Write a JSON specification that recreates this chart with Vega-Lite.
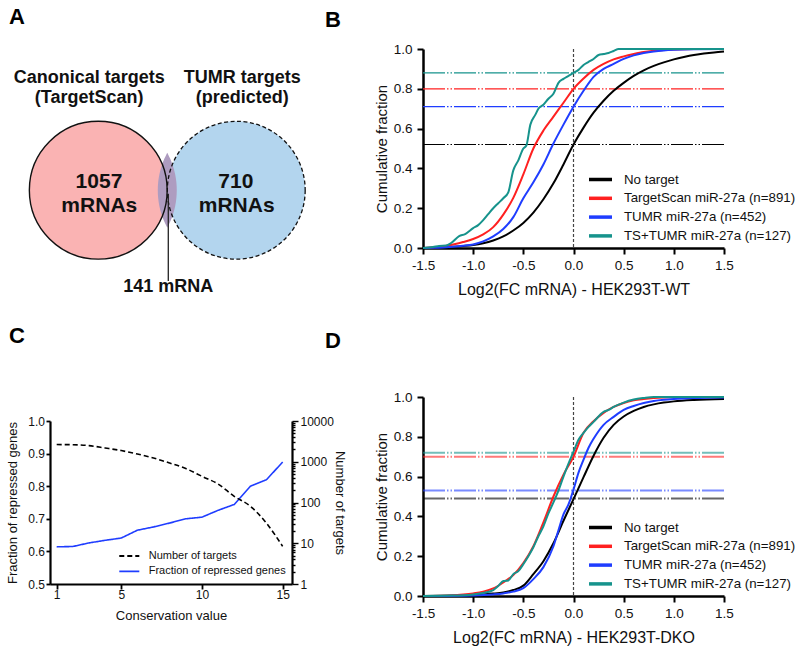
{
"$schema": "https://vega.github.io/schema/vega-lite/v6.json",
"background": "white",
"padding": {"left": 6, "top": 6, "right": 2, "bottom": 2},
"config": {
  "font": "Liberation Sans",
  "view": {"stroke": null},
  "axis": {"domainColor": "#000", "tickColor": "#000", "labelColor": "#111", "titleColor": "#111", "titleFontWeight": "normal", "grid": false, "labelFlush": false, "labelOverlap": false},
  "legend": {"padding": 0, "labelColor": "#111", "symbolOpacity": 1}
},
"datasets": {
  "vennLeft": [{"x": 0, "y": 0}],
  "vennRight": [{"x": 1.758, "y": 0}],
  "vennLens": [
    {"y": -0.477, "xl": 0.879, "xr": 0.879},
    {"y": -0.45, "xl": 0.865, "xr": 0.893},
    {"y": -0.4, "xl": 0.841, "xr": 0.917},
    {"y": -0.3, "xl": 0.804, "xr": 0.954},
    {"y": -0.2, "xl": 0.778, "xr": 0.980},
    {"y": -0.1, "xl": 0.763, "xr": 0.995},
    {"y": 0, "xl": 0.758, "xr": 1.0},
    {"y": 0.1, "xl": 0.763, "xr": 0.995},
    {"y": 0.2, "xl": 0.778, "xr": 0.980},
    {"y": 0.3, "xl": 0.804, "xr": 0.954},
    {"y": 0.4, "xl": 0.841, "xr": 0.917},
    {"y": 0.45, "xl": 0.865, "xr": 0.893},
    {"y": 0.477, "xl": 0.879, "xr": 0.879}
  ],
  "vennPointer": [{"x": 0.892, "y": -0.044, "y2": -1.156}],
  "vennHeaders": [
    {"label": "Canonical targets", "x": -0.116, "y": 1.370},
    {"label": "(TargetScan)", "x": -0.116, "y": 1.107},
    {"label": "TUMR targets", "x": 1.834, "y": 1.370},
    {"label": "(predicted)", "x": 1.834, "y": 1.107}
  ],
  "vennCounts": [
    {"label": "1057", "x": 0.009, "y": 0.032},
    {"label": "mRNAs", "x": 0.013, "y": -0.274},
    {"label": "710", "x": 1.752, "y": 0.032},
    {"label": "mRNAs", "x": 1.763, "y": -0.274}
  ],
  "vennShared": [{"label": "141 mRNA", "x": 0.892, "y": -1.293}],
  "panelLetters": [
    {"label": "A", "x": -1.137, "y": 2.117},
    {"label": "B", "x": 2.888, "y": 2.079},
    {"label": "C", "x": -1.137, "y": -1.940},
    {"label": "D", "x": 2.888, "y": -2.006}
  ],
  "medB": [{"s": "NT", "y": 0.52}, {"s": "TS", "y": 0.80}, {"s": "TU", "y": 0.71}, {"s": "TT", "y": 0.88}],
  "medD": [{"s": "NT", "y": 0.49}, {"s": "TS", "y": 0.70}, {"s": "TU", "y": 0.53}, {"s": "TT", "y": 0.72}],
  "cdfB": [
    {"s":"NT","x":-1.5,"y":0},{"s":"NT","x":-1.4,"y":0.001},{"s":"NT","x":-1.3,"y":0.003},{"s":"NT","x":-1.2,"y":0.006},{"s":"NT","x":-1.1,"y":0.010},{"s":"NT","x":-1.0,"y":0.015},{"s":"NT","x":-0.9,"y":0.024},{"s":"NT","x":-0.8,"y":0.038},{"s":"NT","x":-0.7,"y":0.058},{"s":"NT","x":-0.6,"y":0.088},{"s":"NT","x":-0.5,"y":0.126},{"s":"NT","x":-0.4,"y":0.178},{"s":"NT","x":-0.3,"y":0.245},{"s":"NT","x":-0.2,"y":0.325},{"s":"NT","x":-0.1,"y":0.42},{"s":"NT","x":0,"y":0.52},{"s":"NT","x":0.1,"y":0.605},{"s":"NT","x":0.2,"y":0.68},{"s":"NT","x":0.3,"y":0.74},{"s":"NT","x":0.4,"y":0.79},{"s":"NT","x":0.5,"y":0.83},{"s":"NT","x":0.6,"y":0.865},{"s":"NT","x":0.7,"y":0.893},{"s":"NT","x":0.8,"y":0.915},{"s":"NT","x":0.9,"y":0.933},{"s":"NT","x":1.0,"y":0.948},{"s":"NT","x":1.1,"y":0.96},{"s":"NT","x":1.2,"y":0.97},{"s":"NT","x":1.3,"y":0.977},{"s":"NT","x":1.4,"y":0.983},{"s":"NT","x":1.5,"y":0.988},
    {"s":"TS","x":-1.5,"y":0},{"s":"TS","x":-1.4,"y":0.003},{"s":"TS","x":-1.3,"y":0.008},{"s":"TS","x":-1.2,"y":0.018},{"s":"TS","x":-1.1,"y":0.03},{"s":"TS","x":-1.0,"y":0.045},{"s":"TS","x":-0.9,"y":0.068},{"s":"TS","x":-0.8,"y":0.105},{"s":"TS","x":-0.7,"y":0.168},{"s":"TS","x":-0.6,"y":0.252},{"s":"TS","x":-0.5,"y":0.37},{"s":"TS","x":-0.4,"y":0.50},{"s":"TS","x":-0.3,"y":0.59},{"s":"TS","x":-0.2,"y":0.66},{"s":"TS","x":-0.1,"y":0.73},{"s":"TS","x":0,"y":0.80},{"s":"TS","x":0.1,"y":0.852},{"s":"TS","x":0.2,"y":0.895},{"s":"TS","x":0.3,"y":0.925},{"s":"TS","x":0.4,"y":0.948},{"s":"TS","x":0.5,"y":0.963},{"s":"TS","x":0.6,"y":0.975},{"s":"TS","x":0.7,"y":0.985},{"s":"TS","x":0.8,"y":0.991},{"s":"TS","x":0.9,"y":0.995},{"s":"TS","x":1.0,"y":0.998},{"s":"TS","x":1.2,"y":1.0},{"s":"TS","x":1.5,"y":1.0},
    {"s":"TU","x":-1.5,"y":0},{"s":"TU","x":-1.4,"y":0.001},{"s":"TU","x":-1.3,"y":0.003},{"s":"TU","x":-1.2,"y":0.006},{"s":"TU","x":-1.1,"y":0.011},{"s":"TU","x":-1.0,"y":0.018},{"s":"TU","x":-0.9,"y":0.033},{"s":"TU","x":-0.8,"y":0.058},{"s":"TU","x":-0.7,"y":0.095},{"s":"TU","x":-0.6,"y":0.155},{"s":"TU","x":-0.5,"y":0.25},{"s":"TU","x":-0.4,"y":0.33},{"s":"TU","x":-0.3,"y":0.42},{"s":"TU","x":-0.2,"y":0.525},{"s":"TU","x":-0.1,"y":0.62},{"s":"TU","x":0,"y":0.71},{"s":"TU","x":0.1,"y":0.79},{"s":"TU","x":0.2,"y":0.86},{"s":"TU","x":0.3,"y":0.90},{"s":"TU","x":0.4,"y":0.925},{"s":"TU","x":0.5,"y":0.95},{"s":"TU","x":0.6,"y":0.968},{"s":"TU","x":0.7,"y":0.98},{"s":"TU","x":0.8,"y":0.988},{"s":"TU","x":0.9,"y":0.993},{"s":"TU","x":1.0,"y":0.996},{"s":"TU","x":1.2,"y":0.999},{"s":"TU","x":1.5,"y":1.0},
    {"s":"TT","x":-1.5,"y":0},{"s":"TT","x":-1.4,"y":0.005},{"s":"TT","x":-1.34,"y":0.01},{"s":"TT","x":-1.27,"y":0.012},{"s":"TT","x":-1.22,"y":0.025},{"s":"TT","x":-1.14,"y":0.06},{"s":"TT","x":-1.08,"y":0.07},{"s":"TT","x":-1.0,"y":0.10},{"s":"TT","x":-0.95,"y":0.115},{"s":"TT","x":-0.9,"y":0.14},{"s":"TT","x":-0.85,"y":0.17},{"s":"TT","x":-0.8,"y":0.20},{"s":"TT","x":-0.75,"y":0.225},{"s":"TT","x":-0.7,"y":0.25},{"s":"TT","x":-0.65,"y":0.28},{"s":"TT","x":-0.6,"y":0.39},{"s":"TT","x":-0.55,"y":0.44},{"s":"TT","x":-0.5,"y":0.50},{"s":"TT","x":-0.47,"y":0.515},{"s":"TT","x":-0.43,"y":0.62},{"s":"TT","x":-0.38,"y":0.67},{"s":"TT","x":-0.35,"y":0.70},{"s":"TT","x":-0.3,"y":0.72},{"s":"TT","x":-0.25,"y":0.75},{"s":"TT","x":-0.2,"y":0.775},{"s":"TT","x":-0.15,"y":0.83},{"s":"TT","x":-0.1,"y":0.85},{"s":"TT","x":-0.05,"y":0.865},{"s":"TT","x":0,"y":0.88},{"s":"TT","x":0.05,"y":0.895},{"s":"TT","x":0.1,"y":0.92},{"s":"TT","x":0.15,"y":0.935},{"s":"TT","x":0.2,"y":0.95},{"s":"TT","x":0.25,"y":0.97},{"s":"TT","x":0.3,"y":0.975},{"s":"TT","x":0.35,"y":0.98},{"s":"TT","x":0.4,"y":0.99},{"s":"TT","x":0.45,"y":1.0},{"s":"TT","x":1.5,"y":1.0}
  ],
  "cdfD": [
    {"s":"NT","x":-1.5,"y":0},{"s":"NT","x":-1.2,"y":0.002},{"s":"NT","x":-1.0,"y":0.005},{"s":"NT","x":-0.9,"y":0.008},{"s":"NT","x":-0.8,"y":0.012},{"s":"NT","x":-0.7,"y":0.018},{"s":"NT","x":-0.6,"y":0.03},{"s":"NT","x":-0.5,"y":0.052},{"s":"NT","x":-0.4,"y":0.11},{"s":"NT","x":-0.3,"y":0.175},{"s":"NT","x":-0.2,"y":0.265},{"s":"NT","x":-0.1,"y":0.378},{"s":"NT","x":0,"y":0.487},{"s":"NT","x":0.1,"y":0.597},{"s":"NT","x":0.2,"y":0.705},{"s":"NT","x":0.3,"y":0.795},{"s":"NT","x":0.4,"y":0.86},{"s":"NT","x":0.5,"y":0.902},{"s":"NT","x":0.6,"y":0.93},{"s":"NT","x":0.7,"y":0.95},{"s":"NT","x":0.8,"y":0.963},{"s":"NT","x":0.9,"y":0.972},{"s":"NT","x":1.0,"y":0.978},{"s":"NT","x":1.2,"y":0.985},{"s":"NT","x":1.5,"y":0.99},
    {"s":"TS","x":-1.5,"y":0},{"s":"TS","x":-1.2,"y":0.003},{"s":"TS","x":-1.1,"y":0.007},{"s":"TS","x":-1.0,"y":0.013},{"s":"TS","x":-0.9,"y":0.022},{"s":"TS","x":-0.8,"y":0.038},{"s":"TS","x":-0.7,"y":0.068},{"s":"TS","x":-0.6,"y":0.105},{"s":"TS","x":-0.5,"y":0.165},{"s":"TS","x":-0.4,"y":0.25},{"s":"TS","x":-0.3,"y":0.37},{"s":"TS","x":-0.2,"y":0.50},{"s":"TS","x":-0.1,"y":0.61},{"s":"TS","x":0,"y":0.70},{"s":"TS","x":0.1,"y":0.82},{"s":"TS","x":0.2,"y":0.878},{"s":"TS","x":0.3,"y":0.92},{"s":"TS","x":0.4,"y":0.95},{"s":"TS","x":0.5,"y":0.97},{"s":"TS","x":0.6,"y":0.983},{"s":"TS","x":0.7,"y":0.99},{"s":"TS","x":0.8,"y":0.995},{"s":"TS","x":1.0,"y":0.999},{"s":"TS","x":1.5,"y":1.0},
    {"s":"TU","x":-1.5,"y":0},{"s":"TU","x":-1.0,"y":0.003},{"s":"TU","x":-0.8,"y":0.008},{"s":"TU","x":-0.7,"y":0.013},{"s":"TU","x":-0.6,"y":0.022},{"s":"TU","x":-0.5,"y":0.04},{"s":"TU","x":-0.4,"y":0.085},{"s":"TU","x":-0.3,"y":0.145},{"s":"TU","x":-0.2,"y":0.25},{"s":"TU","x":-0.15,"y":0.33},{"s":"TU","x":-0.1,"y":0.41},{"s":"TU","x":-0.05,"y":0.46},{"s":"TU","x":0,"y":0.535},{"s":"TU","x":0.05,"y":0.62},{"s":"TU","x":0.1,"y":0.685},{"s":"TU","x":0.15,"y":0.745},{"s":"TU","x":0.2,"y":0.79},{"s":"TU","x":0.3,"y":0.86},{"s":"TU","x":0.4,"y":0.9},{"s":"TU","x":0.5,"y":0.935},{"s":"TU","x":0.6,"y":0.955},{"s":"TU","x":0.7,"y":0.97},{"s":"TU","x":0.8,"y":0.98},{"s":"TU","x":0.9,"y":0.986},{"s":"TU","x":1.0,"y":0.99},{"s":"TU","x":1.2,"y":0.995},{"s":"TU","x":1.5,"y":0.998},
    {"s":"TT","x":-1.5,"y":0},{"s":"TT","x":-1.2,"y":0.002},{"s":"TT","x":-1.0,"y":0.008},{"s":"TT","x":-0.9,"y":0.015},{"s":"TT","x":-0.8,"y":0.03},{"s":"TT","x":-0.75,"y":0.05},{"s":"TT","x":-0.7,"y":0.075},{"s":"TT","x":-0.65,"y":0.078},{"s":"TT","x":-0.6,"y":0.11},{"s":"TT","x":-0.55,"y":0.125},{"s":"TT","x":-0.5,"y":0.16},{"s":"TT","x":-0.45,"y":0.20},{"s":"TT","x":-0.4,"y":0.245},{"s":"TT","x":-0.35,"y":0.30},{"s":"TT","x":-0.3,"y":0.35},{"s":"TT","x":-0.25,"y":0.415},{"s":"TT","x":-0.2,"y":0.47},{"s":"TT","x":-0.15,"y":0.53},{"s":"TT","x":-0.1,"y":0.60},{"s":"TT","x":-0.05,"y":0.665},{"s":"TT","x":0,"y":0.725},{"s":"TT","x":0.05,"y":0.785},{"s":"TT","x":0.1,"y":0.82},{"s":"TT","x":0.15,"y":0.85},{"s":"TT","x":0.2,"y":0.875},{"s":"TT","x":0.3,"y":0.925},{"s":"TT","x":0.35,"y":0.935},{"s":"TT","x":0.4,"y":0.95},{"s":"TT","x":0.5,"y":0.972},{"s":"TT","x":0.6,"y":0.987},{"s":"TT","x":0.7,"y":0.995},{"s":"TT","x":0.8,"y":1.0},{"s":"TT","x":1.5,"y":1.0}
  ],
  "conservation": [
    {"cons":1,"frac":0.614,"num":2640},{"cons":2,"frac":0.615,"num":2620},{"cons":3,"frac":0.626,"num":2490},{"cons":4,"frac":0.634,"num":2175},{"cons":5,"frac":0.641,"num":1880},{"cons":6,"frac":0.665,"num":1550},{"cons":7,"frac":0.675,"num":1236},{"cons":8,"frac":0.687,"num":930},{"cons":9,"frac":0.70,"num":680},{"cons":10,"frac":0.705,"num":440},{"cons":11,"frac":0.726,"num":284},{"cons":12,"frac":0.744,"num":142},{"cons":13,"frac":0.80,"num":81},{"cons":14,"frac":0.82,"num":31},{"cons":15,"frac":0.874,"num":8.4}
  ]
},
"bounds": "flush",
"spacing": 373,
"resolve": {"scale": {"color": "independent", "strokeDash": "independent"}},
"hconcat": [
  {
    "bounds": "flush",
    "spacing": 173,
    "resolve": {"scale": {"color": "independent", "strokeDash": "independent"}},
    "vconcat": [
      {
        "width": 242, "height": 199,
        "layer": [
          {"data": {"name": "vennLeft"},
           "mark": {"type": "point", "shape": "circle", "filled": true, "size": 19000, "fill": "#fab3b3", "fillOpacity": 1, "opacity": 1, "strokeWidth": 0},
           "encoding": {"x": {"field": "x", "type": "quantitative", "scale": {"domain": [-0.615, 2.468], "nice": false, "zero": false}, "axis": null},
                        "y": {"field": "y", "type": "quantitative", "scale": {"domain": [-0.736, 1.799], "nice": false, "zero": false}, "axis": null}}},
          {"data": {"name": "vennRight"},
           "mark": {"type": "point", "shape": "circle", "filled": true, "size": 19000, "fill": "#b3d5ee", "fillOpacity": 1, "opacity": 1, "strokeWidth": 0},
           "encoding": {"x": {"field": "x", "type": "quantitative", "scale": {"domain": [-0.615, 2.468], "nice": false, "zero": false}, "axis": null},
                        "y": {"field": "y", "type": "quantitative", "scale": {"domain": [-0.736, 1.799], "nice": false, "zero": false}, "axis": null}}},
          {"data": {"name": "vennLens"},
           "mark": {"type": "area", "orient": "horizontal", "interpolate": "monotone", "color": "#ae9cc0", "opacity": 1},
           "encoding": {"y": {"field": "y", "type": "quantitative", "scale": {"domain": [-0.736, 1.799], "nice": false, "zero": false}, "axis": null},
                        "x": {"field": "xl", "type": "quantitative", "scale": {"domain": [-0.615, 2.468], "nice": false, "zero": false}, "axis": null},
                        "x2": {"field": "xr"}}},
          {"data": {"name": "vennLeft"},
           "mark": {"type": "point", "shape": "circle", "filled": false, "size": 19000, "opacity": 1, "stroke": "#111", "strokeWidth": 1.4},
           "encoding": {"x": {"field": "x", "type": "quantitative", "scale": {"domain": [-0.615, 2.468], "nice": false, "zero": false}, "axis": null},
                        "y": {"field": "y", "type": "quantitative", "scale": {"domain": [-0.736, 1.799], "nice": false, "zero": false}, "axis": null}}},
          {"data": {"name": "vennRight"},
           "mark": {"type": "point", "shape": "circle", "filled": false, "size": 19000, "opacity": 1, "stroke": "#111", "strokeWidth": 1.3, "strokeDash": [4, 2.5]},
           "encoding": {"x": {"field": "x", "type": "quantitative", "scale": {"domain": [-0.615, 2.468], "nice": false, "zero": false}, "axis": null},
                        "y": {"field": "y", "type": "quantitative", "scale": {"domain": [-0.736, 1.799], "nice": false, "zero": false}, "axis": null}}},
          {"data": {"name": "vennPointer"},
           "mark": {"type": "rule", "stroke": "#222", "strokeWidth": 1.3},
           "encoding": {"x": {"field": "x", "type": "quantitative", "scale": {"domain": [-0.615, 2.468], "nice": false, "zero": false}, "axis": null},
                        "y": {"field": "y", "type": "quantitative", "scale": {"domain": [-0.736, 1.799], "nice": false, "zero": false}, "axis": null},
                        "y2": {"field": "y2"}}},
          {"data": {"name": "vennHeaders"},
           "mark": {"type": "text", "fontWeight": "bold", "fontSize": 18, "align": "center", "baseline": "alphabetic", "color": "#111"},
           "encoding": {"x": {"field": "x", "type": "quantitative", "scale": {"domain": [-0.615, 2.468], "nice": false, "zero": false}, "axis": null},
                        "y": {"field": "y", "type": "quantitative", "scale": {"domain": [-0.736, 1.799], "nice": false, "zero": false}, "axis": null},
                        "text": {"field": "label"}}},
          {"data": {"name": "vennCounts"},
           "mark": {"type": "text", "fontWeight": "bold", "fontSize": 21, "align": "center", "baseline": "alphabetic", "color": "#111"},
           "encoding": {"x": {"field": "x", "type": "quantitative", "scale": {"domain": [-0.615, 2.468], "nice": false, "zero": false}, "axis": null},
                        "y": {"field": "y", "type": "quantitative", "scale": {"domain": [-0.736, 1.799], "nice": false, "zero": false}, "axis": null},
                        "text": {"field": "label"}}},
          {"data": {"name": "vennShared"},
           "mark": {"type": "text", "fontWeight": "bold", "fontSize": 18, "align": "center", "baseline": "alphabetic", "color": "#111"},
           "encoding": {"x": {"field": "x", "type": "quantitative", "scale": {"domain": [-0.615, 2.468], "nice": false, "zero": false}, "axis": null},
                        "y": {"field": "y", "type": "quantitative", "scale": {"domain": [-0.736, 1.799], "nice": false, "zero": false}, "axis": null},
                        "text": {"field": "label"}}},
          {"data": {"name": "panelLetters"},
           "mark": {"type": "text", "fontWeight": "bold", "fontSize": 22, "align": "left", "baseline": "alphabetic", "color": "#000"},
           "encoding": {"x": {"field": "x", "type": "quantitative", "scale": {"domain": [-0.615, 2.468], "nice": false, "zero": false}, "axis": null},
                        "y": {"field": "y", "type": "quantitative", "scale": {"domain": [-0.736, 1.799], "nice": false, "zero": false}, "axis": null},
                        "text": {"field": "label"}}}
        ]
      },
      {
        "width": 242, "height": 163,
        "resolve": {"scale": {"y": "independent"}},
        "layer": [
          {"data": {"name": "conservation"},
           "mark": {"type": "line", "strokeWidth": 1.6, "interpolate": "linear"},
           "encoding": {
             "x": {"field": "cons", "type": "quantitative", "scale": {"domain": [0.585, 15.58], "nice": false, "zero": false},
                   "axis": {"values": [1, 5, 10, 15], "format": "d", "title": "Conservation value", "labelFontSize": 12, "titleFontSize": 13, "tickSize": 5, "tickWidth": 1.8, "domainWidth": 2.2, "labelBaseline": "alphabetic", "labelPadding": 9.3, "titleBaseline": "alphabetic", "titleY": 35.3, "labelOverlap": false}},
             "y": {"field": "frac", "type": "quantitative", "scale": {"domain": [0.5, 1], "nice": false, "zero": false},
                   "axis": {"orient": "left", "values": [0.5, 0.6, 0.7, 0.8, 0.9, 1], "format": ".1f", "title": "Fraction of repressed genes", "labelFontSize": 12, "titleFontSize": 13, "tickSize": 4, "tickWidth": 1.8, "domainWidth": 2.2, "labelPadding": 1.5, "titleX": -30.5, "labelOverlap": false}},
             "color": {"datum": "Fraction of repressed genes", "type": "nominal", "scale": {"domain": ["Number of targets", "Fraction of repressed genes"], "range": ["#000000", "#1f3dff"]},
                       "legend": {"title": null, "orient": "none", "legendX": 72.3, "legendY": 128, "labelFontSize": 11, "symbolType": "M-1.67,0H1.67", "symbolSize": 144, "symbolStrokeWidth": 1.8, "rowPadding": 3.3, "labelOffset": 12.4, "labelLimit": 300}},
             "strokeDash": {"datum": "Fraction of repressed genes", "type": "nominal", "scale": {"domain": ["Number of targets", "Fraction of repressed genes"], "range": [[5, 3], [1, 0]]},
                       "legend": {"title": null, "orient": "none", "legendX": 72.3, "legendY": 128, "labelFontSize": 11, "symbolType": "M-1.67,0H1.67", "symbolSize": 144, "symbolStrokeWidth": 1.8, "rowPadding": 3.3, "labelOffset": 12.4, "labelLimit": 300}}
           }},
          {"data": {"name": "conservation"},
           "mark": {"type": "line", "strokeWidth": 1.6, "interpolate": "monotone"},
           "encoding": {
             "x": {"field": "cons", "type": "quantitative", "scale": {"domain": [0.585, 15.58], "nice": false, "zero": false},
                   "axis": {"values": [1, 5, 10, 15], "format": "d", "title": "Conservation value", "labelFontSize": 12, "titleFontSize": 13, "tickSize": 5, "tickWidth": 1.8, "domainWidth": 2.2, "labelBaseline": "alphabetic", "labelPadding": 9.3, "titleBaseline": "alphabetic", "titleY": 35.3, "labelOverlap": false}},
             "y": {"field": "num", "type": "quantitative", "scale": {"type": "log", "domain": [1, 10000], "nice": false},
                   "axis": {"orient": "right", "values": [1,2,3,4,5,6,7,8,9,10,20,30,40,50,60,70,80,90,100,200,300,400,500,600,700,800,900,1000,2000,3000,4000,5000,6000,7000,8000,9000,10000], "format": "d",
                            "labelExpr": "(datum.value === 1 || datum.value === 10 || datum.value === 100 || datum.value === 1000 || datum.value === 10000) ? datum.label : ''",
                            "title": "Number of targets", "labelFontSize": 12, "titleFontSize": 13, "labelOverlap": false,
                            "tickSize": {"condition": {"test": "datum.value === 1 || datum.value === 10 || datum.value === 100 || datum.value === 1000 || datum.value === 10000", "value": 6}, "value": 3},
                            "tickWidth": 1.4, "domainWidth": 2.2, "labelPadding": 2, "titleX": 40}},
             "color": {"datum": "Number of targets", "type": "nominal", "scale": {"domain": ["Number of targets", "Fraction of repressed genes"], "range": ["#000000", "#1f3dff"]},
                       "legend": {"title": null, "orient": "none", "legendX": 72.3, "legendY": 128, "labelFontSize": 11, "symbolType": "M-1.67,0H1.67", "symbolSize": 144, "symbolStrokeWidth": 1.8, "rowPadding": 3.3, "labelOffset": 12.4, "labelLimit": 300}},
             "strokeDash": {"datum": "Number of targets", "type": "nominal", "scale": {"domain": ["Number of targets", "Fraction of repressed genes"], "range": [[5, 3], [1, 0]]},
                       "legend": {"title": null, "orient": "none", "legendX": 72.3, "legendY": 128, "labelFontSize": 11, "symbolType": "M-1.67,0H1.67", "symbolSize": 144, "symbolStrokeWidth": 1.8, "rowPadding": 3.3, "labelOffset": 12.4, "labelLimit": 300}}
           }}
        ]
      }
    ]
  },
  {
    "bounds": "flush",
    "spacing": 149,
    "resolve": {"scale": {"color": "independent"}},
    "vconcat": [
      {
        "width": 301, "height": 199,
        "layer": [
          {"data": {"name": "medB"},
           "mark": {"type": "rule", "strokeWidth": 1.2, "strokeDash": [22, 2, 1.5, 2, 1.5, 2]},
           "encoding": {
             "y": {"field": "y", "type": "quantitative", "scale": {"domain": [0, 1], "nice": false, "zero": false},
                   "axis": {"values": [0, 0.2, 0.4, 0.6, 0.8, 1], "format": ".1f", "title": "Cumulative fraction", "labelFontSize": 13.5, "titleFontSize": 15, "tickSize": 6, "tickWidth": 2, "domainWidth": 2.5, "labelPadding": 5, "titleX": -34, "labelOverlap": false}},
             "color": {"field": "s", "type": "nominal", "scale": {"domain": ["NT", "TS", "TU", "TT"], "range": ["#000000", "#ff2020", "#1f3dff", "#16938c"]},
                       "legend": {"title": null, "orient": "none", "legendX": 167, "legendY": 120, "labelFontSize": 13.3, "symbolType": "M-1.35,0H1.35", "symbolSize": 289, "symbolStrokeWidth": 3.5, "symbolOpacity": 1, "rowPadding": 0.8, "labelOffset": 13, "labelLimit": 300,
                                  "labelExpr": "{'NT': 'No target', 'TS': 'TargetScan miR-27a (n=891)', 'TU': 'TUMR miR-27a (n=452)', 'TT': 'TS+TUMR miR-27a (n=127)'}[datum.label]"}}
           }},
          {"data": {"values": [{"x": 0}]},
           "mark": {"type": "rule", "color": "#444", "strokeWidth": 1.2, "strokeDash": [3, 2]},
           "encoding": {"x": {"field": "x", "type": "quantitative", "scale": {"domain": [-1.5, 1.5], "nice": false, "zero": false},
                              "axis": {"values": [-1.5, -1, -0.5, 0, 0.5, 1, 1.5], "labelExpr": "datum.value < 0 ? '-' + format(-datum.value, '.1f') : format(datum.value, '.1f')", "title": "Log2(FC mRNA) - HEK293T-WT", "labelFontSize": 13.5, "titleFontSize": 16, "tickSize": 6, "tickWidth": 2, "domainWidth": 2.5, "labelBaseline": "alphabetic", "labelPadding": 15.3, "titleBaseline": "alphabetic", "titleY": 46.5, "labelOverlap": false}}}},
          {"data": {"name": "cdfB"},
           "mark": {"type": "line", "strokeWidth": 2, "interpolate": "monotone"},
           "encoding": {
             "x": {"field": "x", "type": "quantitative", "scale": {"domain": [-1.5, 1.5], "nice": false, "zero": false},
                   "axis": {"values": [-1.5, -1, -0.5, 0, 0.5, 1, 1.5], "labelExpr": "datum.value < 0 ? '-' + format(-datum.value, '.1f') : format(datum.value, '.1f')", "title": "Log2(FC mRNA) - HEK293T-WT", "labelFontSize": 13.5, "titleFontSize": 16, "tickSize": 6, "tickWidth": 2, "domainWidth": 2.5, "labelBaseline": "alphabetic", "labelPadding": 15.3, "titleBaseline": "alphabetic", "titleY": 46.5, "labelOverlap": false}},
             "y": {"field": "y", "type": "quantitative", "scale": {"domain": [0, 1], "nice": false, "zero": false},
                   "axis": {"values": [0, 0.2, 0.4, 0.6, 0.8, 1], "format": ".1f", "title": "Cumulative fraction", "labelFontSize": 13.5, "titleFontSize": 15, "tickSize": 6, "tickWidth": 2, "domainWidth": 2.5, "labelPadding": 5, "titleX": -34, "labelOverlap": false}},
             "color": {"field": "s", "type": "nominal", "scale": {"domain": ["NT", "TS", "TU", "TT"], "range": ["#000000", "#ff2020", "#1f3dff", "#16938c"]},
                       "legend": {"title": null, "orient": "none", "legendX": 167, "legendY": 120, "labelFontSize": 13.3, "symbolType": "M-1.35,0H1.35", "symbolSize": 289, "symbolStrokeWidth": 3.5, "symbolOpacity": 1, "rowPadding": 0.8, "labelOffset": 13, "labelLimit": 300,
                                  "labelExpr": "{'NT': 'No target', 'TS': 'TargetScan miR-27a (n=891)', 'TU': 'TUMR miR-27a (n=452)', 'TT': 'TS+TUMR miR-27a (n=127)'}[datum.label]"}}
           }}
        ]
      },
      {
        "width": 301, "height": 199,
        "layer": [
          {"data": {"name": "medD"},
           "mark": {"type": "rule", "strokeWidth": 2, "strokeOpacity": 0.6, "strokeDash": [22, 2, 1.5, 2, 1.5, 2]},
           "encoding": {
             "y": {"field": "y", "type": "quantitative", "scale": {"domain": [0, 1], "nice": false, "zero": false},
                   "axis": {"values": [0, 0.2, 0.4, 0.6, 0.8, 1], "format": ".1f", "title": "Cumulative fraction", "labelFontSize": 13.5, "titleFontSize": 15, "tickSize": 6, "tickWidth": 2, "domainWidth": 2.5, "labelPadding": 5, "titleX": -34, "labelOverlap": false}},
             "color": {"field": "s", "type": "nominal", "scale": {"domain": ["NT", "TS", "TU", "TT"], "range": ["#000000", "#ff2020", "#1f3dff", "#16938c"]},
                       "legend": {"title": null, "orient": "none", "legendX": 167, "legendY": 120, "labelFontSize": 13.3, "symbolType": "M-1.35,0H1.35", "symbolSize": 289, "symbolStrokeWidth": 3.5, "symbolOpacity": 1, "rowPadding": 0.8, "labelOffset": 13, "labelLimit": 300,
                                  "labelExpr": "{'NT': 'No target', 'TS': 'TargetScan miR-27a (n=891)', 'TU': 'TUMR miR-27a (n=452)', 'TT': 'TS+TUMR miR-27a (n=127)'}[datum.label]"}}
           }},
          {"data": {"values": [{"x": 0}]},
           "mark": {"type": "rule", "color": "#444", "strokeWidth": 1.2, "strokeDash": [3, 2]},
           "encoding": {"x": {"field": "x", "type": "quantitative", "scale": {"domain": [-1.5, 1.5], "nice": false, "zero": false},
                              "axis": {"values": [-1.5, -1, -0.5, 0, 0.5, 1, 1.5], "labelExpr": "datum.value < 0 ? '-' + format(-datum.value, '.1f') : format(datum.value, '.1f')", "title": "Log2(FC mRNA) - HEK293T-DKO", "labelFontSize": 13.5, "titleFontSize": 16, "tickSize": 6, "tickWidth": 2, "domainWidth": 2.5, "labelBaseline": "alphabetic", "labelPadding": 15.3, "titleBaseline": "alphabetic", "titleY": 46.5, "labelOverlap": false}}}},
          {"data": {"name": "cdfD"},
           "mark": {"type": "line", "strokeWidth": 2, "interpolate": "monotone"},
           "encoding": {
             "x": {"field": "x", "type": "quantitative", "scale": {"domain": [-1.5, 1.5], "nice": false, "zero": false},
                   "axis": {"values": [-1.5, -1, -0.5, 0, 0.5, 1, 1.5], "labelExpr": "datum.value < 0 ? '-' + format(-datum.value, '.1f') : format(datum.value, '.1f')", "title": "Log2(FC mRNA) - HEK293T-DKO", "labelFontSize": 13.5, "titleFontSize": 16, "tickSize": 6, "tickWidth": 2, "domainWidth": 2.5, "labelBaseline": "alphabetic", "labelPadding": 15.3, "titleBaseline": "alphabetic", "titleY": 46.5, "labelOverlap": false}},
             "y": {"field": "y", "type": "quantitative", "scale": {"domain": [0, 1], "nice": false, "zero": false},
                   "axis": {"values": [0, 0.2, 0.4, 0.6, 0.8, 1], "format": ".1f", "title": "Cumulative fraction", "labelFontSize": 13.5, "titleFontSize": 15, "tickSize": 6, "tickWidth": 2, "domainWidth": 2.5, "labelPadding": 5, "titleX": -34, "labelOverlap": false}},
             "color": {"field": "s", "type": "nominal", "scale": {"domain": ["NT", "TS", "TU", "TT"], "range": ["#000000", "#ff2020", "#1f3dff", "#16938c"]},
                       "legend": {"title": null, "orient": "none", "legendX": 167, "legendY": 120, "labelFontSize": 13.3, "symbolType": "M-1.35,0H1.35", "symbolSize": 289, "symbolStrokeWidth": 3.5, "symbolOpacity": 1, "rowPadding": 0.8, "labelOffset": 13, "labelLimit": 300,
                                  "labelExpr": "{'NT': 'No target', 'TS': 'TargetScan miR-27a (n=891)', 'TU': 'TUMR miR-27a (n=452)', 'TT': 'TS+TUMR miR-27a (n=127)'}[datum.label]"}}
           }}
        ]
      }
    ]
  }
]
}
